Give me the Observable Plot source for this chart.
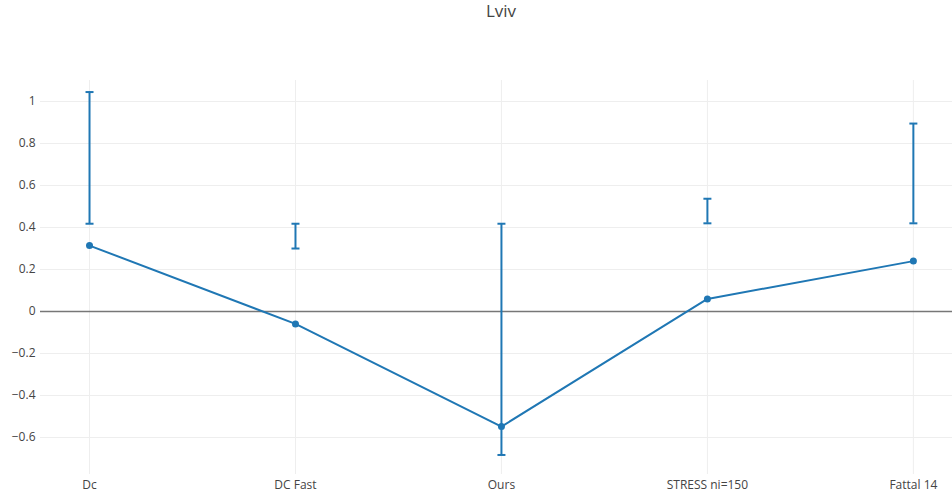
<!DOCTYPE html>
<html>
<head>
<meta charset="utf-8">
<script src="https://cdn.jsdelivr.net/npm/d3@7"></script>
<script src="https://cdn.jsdelivr.net/npm/@observablehq/plot@0.6"></script>
<style>
  html, body { margin: 0; padding: 0; background: #fff; }
  #title { height: 30px; line-height: 22px; text-align: center; padding-left: 50px; box-sizing: border-box; font-family: "Open Sans", sans-serif; font-size: 17px; color: #444; }
  #chart svg { display: block; }
</style>
</head>
<body>
<div id="title">Lviv</div>
<div id="chart"></div>
<script>
const categories = ["Dc", "DC Fast", "Ours", "STRESS ni=150", "Fattal 14"];
const values = [0.314, -0.059, -0.548, 0.060, 0.240];
const errLow = [0.418, 0.300, -0.683, 0.420, 0.420];
const errHigh = [1.045, 0.418, 0.418, 0.537, 0.895];
const yTicks = [-0.6, -0.4, -0.2, 0, 0.2, 0.4, 0.6, 0.8, 1];

const data = categories.map((c, i) => ({i, c, v: values[i], lo: errLow[i], hi: errHigh[i]}));
const capSymbol = {
  draw(ctx, size) {
    const w = Math.sqrt(size / Math.PI);
    ctx.moveTo(-w, 0);
    ctx.lineTo(w, 0);
  }
};
const blue = "#1f77b4";

const chart = Plot.plot({
  width: 952,
  height: 467,
  marginTop: 50,
  marginBottom: 23,
  marginLeft: 40,
  marginRight: 0,
  style: {fontFamily: "Open Sans, sans-serif", fontSize: "12px", color: "#444", background: "#fff"},
  x: {domain: [-0.238, 4.19], ticks: d3.range(categories.length), tickFormat: i => categories[i], tickSize: 0, tickPadding: 6, label: null},
  y: {domain: [-0.776, 1.1], ticks: yTicks, tickFormat: d3.format("~g"), tickSize: 0, tickPadding: 5, label: null},
  marks: [
    Plot.gridX(d3.range(categories.length), {stroke: "#eee", strokeOpacity: 1}),
    Plot.gridY(yTicks, {stroke: "#eee", strokeOpacity: 1}),
    Plot.ruleY([0], {stroke: "#777", strokeWidth: 1.6}),
    Plot.ruleX(data, {x: "i", y1: "lo", y2: "hi", stroke: blue, strokeWidth: 2}),
    Plot.dot(data, {x: "i", y: "lo", symbol: capSymbol, r: 4, stroke: blue, strokeWidth: 2, fill: "none"}),
    Plot.dot(data, {x: "i", y: "hi", symbol: capSymbol, r: 4, stroke: blue, strokeWidth: 2, fill: "none"}),
    Plot.line(data, {x: "i", y: "v", stroke: blue, strokeWidth: 2}),
    Plot.dot(data, {x: "i", y: "v", r: 3.5, fill: blue, stroke: "none"}),
    Plot.axisX({ticks: d3.range(categories.length), tickFormat: i => categories[i], tickSize: 0, tickPadding: 6, fill: "#444", label: null}),
    Plot.axisY({ticks: yTicks, tickFormat: d3.format("~g"), tickSize: 0, tickPadding: 5, fill: "#444", label: null})
  ]
});
document.getElementById("chart").appendChild(chart);
</script>
</body>
</html>
